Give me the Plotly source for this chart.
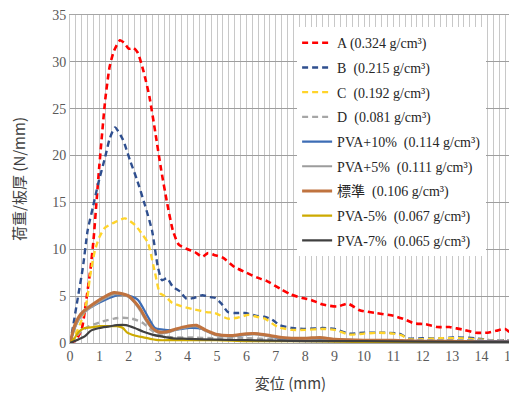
import plotly.graph_objects as go

# ---- data ----
series_names = [
    "A (0.324 g/cm³)", "B  (0.215 g/cm³)", "C  (0.192 g/cm³)", "D  (0.081 g/cm³)",
    "PVA+10%  (0.114 g/cm³)", "PVA+5%  (0.111 g/cm³)", "標準  (0.106 g/cm³)",
    "PVA-5%  (0.067 g/cm³)", "PVA-7%  (0.065 g/cm³)",
]

a_x = [0, 0.2, 0.4, 0.55, 0.7, 0.8, 0.9, 1.0, 1.2, 1.35, 1.5, 1.7, 1.85, 2.0, 2.15, 2.3, 2.5, 2.7, 2.9, 3.1,
       3.3, 3.5, 3.7, 4.0, 4.25, 4.5, 4.7, 4.9, 5.2, 5.6, 6.0, 6.35, 6.7, 7.2, 7.5, 7.9, 8.2, 8.6, 9.1, 9.45,
       9.85, 10.4, 11.0, 11.4, 11.7, 12.1, 12.5, 12.9, 13.4, 13.8, 14.2, 14.5, 14.8, 15.0]
a_y = [0, 0.3, 1.5, 4.5, 8, 11, 15, 19, 26, 29.5, 31.2, 32.3, 32.0, 31.4, 31.5, 31.0, 29.0, 26.3, 22.5, 18.5,
       15.0, 12.0, 10.5, 10.0, 9.7, 9.2, 9.6, 9.4, 9.1, 8.1, 7.5, 7.0, 6.6, 5.7, 5.2, 4.8, 4.6, 4.1, 3.9, 4.2,
       3.5, 3.2, 2.9, 2.5, 2.1, 2.0, 1.7, 1.7, 1.4, 1.1, 1.1, 1.3, 1.5, 1.0]

b_x = [0, 0.1, 0.27, 0.44, 0.6, 0.78, 0.95, 1.2, 1.35, 1.53, 1.8, 2.04, 2.28, 2.55, 2.79, 2.99, 3.13, 3.3,
       3.5, 3.74, 3.97, 4.2, 4.5, 4.76, 4.95, 5.15, 5.37, 5.6, 5.95, 6.35, 6.6, 6.87, 7.14, 7.55, 8.0, 8.6,
       9.0, 9.5, 10.0, 10.5, 11.2, 11.5, 12.0, 12.6, 13.2, 13.8, 14.3, 15.0]
b_y = [0, 1.7, 4.9, 8.1, 12, 14.5, 16.9, 19.9, 21.8, 23.0, 21.7, 19.5, 17.4, 14.7, 12, 8.1, 6.7, 6.9,
       6.0, 5.5, 4.7, 4.8, 5.1, 4.9, 4.8, 4.2, 3.3, 3.2, 3.2, 2.9, 2.8, 2.5, 1.9, 1.6, 1.5, 1.6,
       1.5, 1.0, 1.1, 1.1, 1.0, 0.5, 0.5, 0.5, 0.6, 0.5, 0.3, 0.3]

c_x = [0, 0.2, 0.4, 0.58, 0.68, 0.85, 1.0, 1.19, 1.53, 1.87, 2.21, 2.48, 2.65, 2.89, 3.06, 3.23, 3.47, 3.8,
       4.2, 4.65, 4.93, 5.37, 5.7, 6.07, 6.35, 6.63, 7.07, 7.55, 8.0, 8.6, 9.0, 9.5, 10.0, 10.5, 11.0, 11.3,
       11.5, 12.0, 12.6, 13.2, 13.8, 14.3, 15.0]
c_y = [0, 1.0, 2.5, 4.6, 7.1, 9.9, 11.3, 12.3, 12.9, 13.3, 12.6, 11.5, 10.7, 7.5, 5.3, 5.0, 4.3, 3.9,
       3.6, 3.3, 3.2, 2.6, 2.7, 3.0, 2.8, 2.6, 1.7, 1.4, 1.4, 1.5, 1.4, 0.9, 1.0, 1.1, 1.0, 0.8,
       0.4, 0.4, 0.5, 0.5, 0.4, 0.3, 0.2]

d_x = [0, 0.3, 0.6, 1.0, 1.5, 1.8, 2.1, 2.45, 2.8, 3.1, 3.5, 4.0, 5.0, 6.0, 7.0, 8.0, 10, 12, 15]
d_y = [0, 1.0, 1.7, 2.2, 2.6, 2.7, 2.6, 2.2, 1.3, 0.8, 0.6, 0.6, 0.5, 0.5, 0.4, 0.4, 0.3, 0.3, 0.3]

p10_x = [0, 0.17, 0.41, 0.75, 1.19, 1.63, 1.97, 2.31, 2.65, 2.89, 3.23, 3.6, 4.08, 4.5, 4.86, 5.3, 5.8,
         6.3, 6.7, 7.1, 8, 9, 10, 11, 12, 13, 14, 15]
p10_y = [0, 1.7, 3.2, 3.9, 4.6, 5.1, 5.1, 4.6, 2.8, 1.6, 1.4, 1.4, 1.6, 1.5, 1.0, 0.8, 0.8,
         1.0, 0.8, 0.5, 0.4, 0.3, 0.3, 0.2, 0.2, 0.2, 0.2, 0.2]

std_x = [0, 0.15, 0.3, 0.5, 0.8, 1.1, 1.4, 1.5, 1.7, 2.0, 2.2, 2.4, 2.6, 2.8, 3.0, 3.3, 3.6, 4.0, 4.3, 4.6,
         5.0, 5.5, 6.0, 6.4, 6.8, 7.2, 8.0, 8.5, 9.0, 10, 11, 12, 13, 14, 15]
std_y = [0, 1.8, 2.8, 3.5, 4.2, 4.8, 5.3, 5.4, 5.3, 5.0, 4.4, 3.6, 2.5, 1.6, 1.2, 1.2, 1.5, 1.8, 1.9, 1.4,
         0.9, 0.8, 1.0, 1.0, 0.8, 0.6, 0.5, 0.6, 0.4, 0.3, 0.3, 0.2, 0.2, 0.1, 0.1]
p5_y = [0, 1.5, 2.5, 3.3, 4.0, 4.6, 5.1, 5.2, 5.2, 4.9, 4.3, 3.4, 2.3, 1.5, 1.1, 1.1, 1.4, 1.7, 1.8, 1.3,
        0.8, 0.7, 0.9, 0.9, 0.7, 0.5, 0.4, 0.5, 0.4, 0.3, 0.2, 0.2, 0.2, 0.1, 0.1]

m5_x = [0, 0.15, 0.3, 0.5, 0.8, 1.0, 1.3, 1.6, 1.8, 1.95, 2.2, 2.5, 2.8, 3.0, 3.5, 4, 5, 6, 7, 8, 10, 12, 15]
m5_y = [0, 0.5, 1.2, 1.6, 1.7, 1.8, 1.8, 1.8, 1.6, 1.1, 0.8, 0.6, 0.4, 0.3, 0.3, 0.3, 0.3, 0.2, 0.2, 0.2,
        0.1, 0.1, 0.1]

m7_x = [0, 0.3, 0.5, 0.7, 1.0, 1.3, 1.6, 1.9, 2.2, 2.5, 2.8, 3.1, 3.5, 4, 5, 6, 8, 10, 12, 15]
m7_y = [0, 0.4, 0.7, 1.3, 1.6, 1.75, 1.9, 1.9, 1.6, 1.2, 0.9, 0.7, 0.5, 0.45, 0.35, 0.3, 0.2, 0.2, 0.15, 0.1]

x_ticks = list(range(0, 16))
y_ticks = [0, 5, 10, 15, 20, 25, 30, 35]

# ---- styles ----
styles = [
    (a_x, a_y, "#FF0000", "6px,4px", 2.6),
    (b_x, b_y, "#2F4F8F", "6px,4px", 2.4),
    (c_x, c_y, "#FFD42A", "6px,4px", 2.4),
    (d_x, d_y, "#A6A6A6", "6px,4px", 2.4),
    (p10_x, p10_y, "#3D6DB5", "solid", 2.2),
    (std_x, p5_y, "#9C9C9C", "solid", 2.2),
    (std_x, std_y, "#C0733F", "solid", 3.0),
    (m5_x, m5_y, "#CDAA00", "solid", 2.2),
    (m7_x, m7_y, "#404040", "solid", 2.2),
]

fig = go.Figure()
for name, (xs, ys, col, dash, w) in zip(series_names, styles):
    fig.add_trace(go.Scatter(
        x=xs, y=ys, mode="lines", name=name, legendgroup=name,
        line=dict(color=col, dash=dash, width=w, shape="spline", smoothing=0.6),
        cliponaxis=True,
    ))

tick_font = dict(family="Liberation Serif, serif", size=14, color="#595959")
title_font = dict(family="Noto Sans CJK JP, sans-serif", size=15, color="#404040")

fig.update_layout(
    template="none",
    width=509, height=391,
    margin=dict(l=62, r=6, t=7, b=56, autoexpand=False),
    paper_bgcolor="white", plot_bgcolor="white",
    showlegend=True,
    legend=dict(
        x=0.515, y=0.963, xanchor="left", yanchor="top",
        bgcolor="white", borderwidth=0,
        font=dict(family="Liberation Serif, Noto Sans CJK JP, serif", size=14, color="#262626"),
        tracegroupgap=3.5,
    ),
    xaxis=dict(
        range=[0, 15], tickvals=x_ticks, ticktext=[str(v) for v in x_ticks],
        showgrid=True, gridcolor="#C8C8C8", gridwidth=1,
        minor=dict(dtick=0.2, tick0=0, showgrid=True, gridcolor="#C8C8C8", gridwidth=1, ticks=""),
        showline=True, linecolor="#A6A6A6", linewidth=1, mirror=True,
        ticks="", tickfont=tick_font, zeroline=False, automargin=False,
        ticklabeloverflow="allow",
        title=dict(text="変位 (mm)", font=title_font, standoff=15),
    ),
    yaxis=dict(
        range=[0, 35], tickvals=y_ticks, ticktext=[str(v) for v in y_ticks],
        showgrid=True, gridcolor="#9E9E9E", gridwidth=1,
        showline=True, linecolor="#C8C8C8", linewidth=1, mirror=True,
        ticks="", tickfont=tick_font, zeroline=False, automargin=False,
        ticklabeloverflow="allow",
        title=dict(text="荷重/板厚 (N/mm)", font=title_font, standoff=27),
    ),
)

fig.write_html("out.html")
